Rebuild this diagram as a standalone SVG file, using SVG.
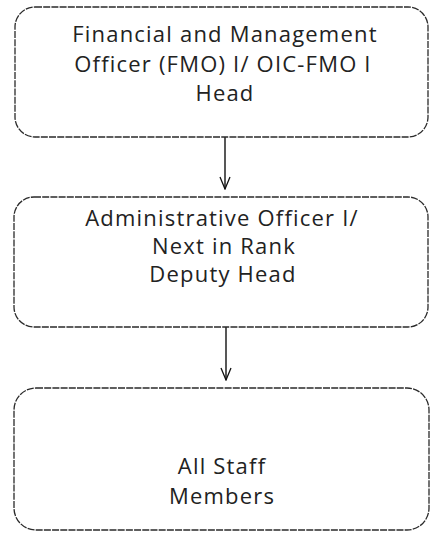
<svg xmlns="http://www.w3.org/2000/svg" width="431" height="533" viewBox="0 0 431 533">
<style>
.box{fill:#fff;stroke:#2a2a2a;stroke-width:1.3;stroke-dasharray:7 1.2}
.t{font-family:"Open Sans","DejaVu Sans",sans-serif;font-size:22px;fill:#222;text-anchor:middle;letter-spacing:1.2px}
.c{stroke:#111;stroke-width:1.4;fill:none}
</style>
<defs>
<marker id="v" viewBox="0 0 14 12" refX="13" refY="6" markerWidth="14" markerHeight="12" markerUnits="userSpaceOnUse" orient="auto">
<path d="M1,1 L13,6 L1,11" fill="none" stroke="#111" stroke-width="1.3"/>
</marker>
</defs>
<rect width="431" height="533" fill="#fff"/>
<g id="connectors">
<line class="c" x1="225" y1="137" x2="225" y2="189" marker-end="url(#v)"/>
<line class="c" x1="226" y1="327" x2="226" y2="380" marker-end="url(#v)"/>
</g>
<g id="node-head">
<rect class="box" x="15" y="7" width="413" height="130" rx="20" ry="20"/>
<text class="t" x="225" y="42">Financial and Management</text>
<text class="t" x="223" y="72">Officer (FMO) I/ OIC-FMO I</text>
<text class="t" x="225" y="101">Head</text>
</g>
<g id="node-deputy">
<rect class="box" x="14" y="197" width="414" height="130" rx="20" ry="20"/>
<text class="t" x="222" y="226">Administrative Officer I/</text>
<text class="t" x="224" y="254">Next in Rank</text>
<text class="t" x="223" y="282">Deputy Head</text>
</g>
<g id="node-staff">
<rect class="box" x="14" y="388" width="415" height="142" rx="22" ry="22"/>
<text class="t" x="222" y="474">All Staff</text>
<text class="t" x="222" y="504">Members</text>
</g>
</svg>
